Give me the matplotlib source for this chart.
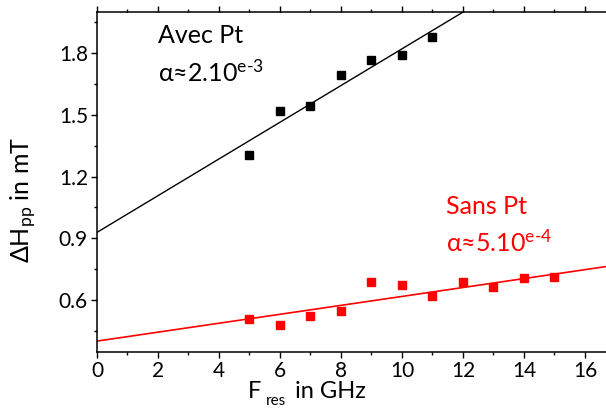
import matplotlib
matplotlib.use("Agg")
import matplotlib.pyplot as plt
import numpy as np
from matplotlib.ticker import MultipleLocator

plt.rcParams['font.family'] = ['Lato', 'DejaVu Sans']
plt.rcParams['mathtext.fontset'] = 'custom'
plt.rcParams['mathtext.rm'] = 'Lato'
plt.rcParams['mathtext.it'] = 'Lato'

# Data
f_avec = [5, 6, 7, 8, 9, 10, 11]
dh_avec = [1.305, 1.52, 1.545, 1.694, 1.767, 1.79, 1.879]
f_sans = [5, 6, 7, 8, 9, 10, 11, 12, 13, 14, 15]
dh_sans = [0.508, 0.478, 0.524, 0.549, 0.686, 0.671, 0.618, 0.688, 0.665, 0.709, 0.714]
# linear fits (intercept, slope)
fit_avec = (0.929, 0.0892)
fit_sans = (0.4006, 0.0217)

xmax = 16.69
W, H = 606, 408
fig = plt.figure(figsize=(W/100, H/100), dpi=100)
ax = fig.add_axes([97/W, 1-351.5/H, 1-97/W, (351.5-12)/H])

xx = np.array([0, xmax])
ax.plot(xx, fit_avec[0] + fit_avec[1]*xx, color='black', lw=1.0, zorder=2)
ax.plot(xx, fit_sans[0] + fit_sans[1]*xx, color='#ff0000', lw=1.2, zorder=2)
ax.plot(f_avec, dh_avec, 's', color='black', ms=6, zorder=3)
ax.plot(f_sans, dh_sans, 's', color='#ff0000', ms=6, zorder=3)

ax.set_xlim(0, xmax)
ax.set_ylim(0.35, 2.0)
ax.xaxis.set_major_locator(MultipleLocator(2))
ax.xaxis.set_minor_locator(MultipleLocator(1))
ax.yaxis.set_minor_locator(MultipleLocator(0.15))
ax.set_yticks([0.6, 0.9, 1.2, 1.5, 1.8])
ax.set_yticklabels(['0.6', '0.9', '1.2', '1.5', '1.8'])

for s in ['left', 'bottom', 'top']:
    ax.spines[s].set_linewidth(1.1)
ax.spines['right'].set_visible(False)
ax.tick_params(axis='both', which='major', direction='out', length=4.5, width=1.0,
               labelsize=15, pad=2)
ax.tick_params(axis='both', which='minor', direction='out', length=2.5, width=1.0)
ax.tick_params(axis='x', which='both', top=True)

ax.text(0.12, 0.965, 'Avec Pt', transform=ax.transAxes, fontsize=18, va='top', ha='left')
ax.text(0.12, 0.86, r'α≈2.10$^{\mathrm{e\text{-}3}}$', transform=ax.transAxes, fontsize=18,
        va='top', ha='left')
ax.text(0.686, 0.46, 'Sans Pt', transform=ax.transAxes, fontsize=18, va='top', ha='left',
        color='#ff0000')
ax.text(0.686, 0.36, r'α≈5.10$^{\mathrm{e\text{-}4}}$', transform=ax.transAxes, fontsize=18,
        va='top', ha='left', color='#ff0000')

# x label built in pieces (subscript sits far below)
fig.text(248/W, 1-398/H, 'F', fontsize=17, ha='left', va='baseline')
fig.text(266/W, 1-405/H, 'res', fontsize=11, ha='left', va='baseline')
fig.text(295/W, 1-398/H, 'in GHz', fontsize=17, ha='left', va='baseline')

fig.text(24/W, 1-200/H, r'ΔH$_{\mathrm{pp}}$ in mT', fontsize=18, ha='center', va='center',
         rotation=90)

fig.savefig('out.png', dpi=100)
